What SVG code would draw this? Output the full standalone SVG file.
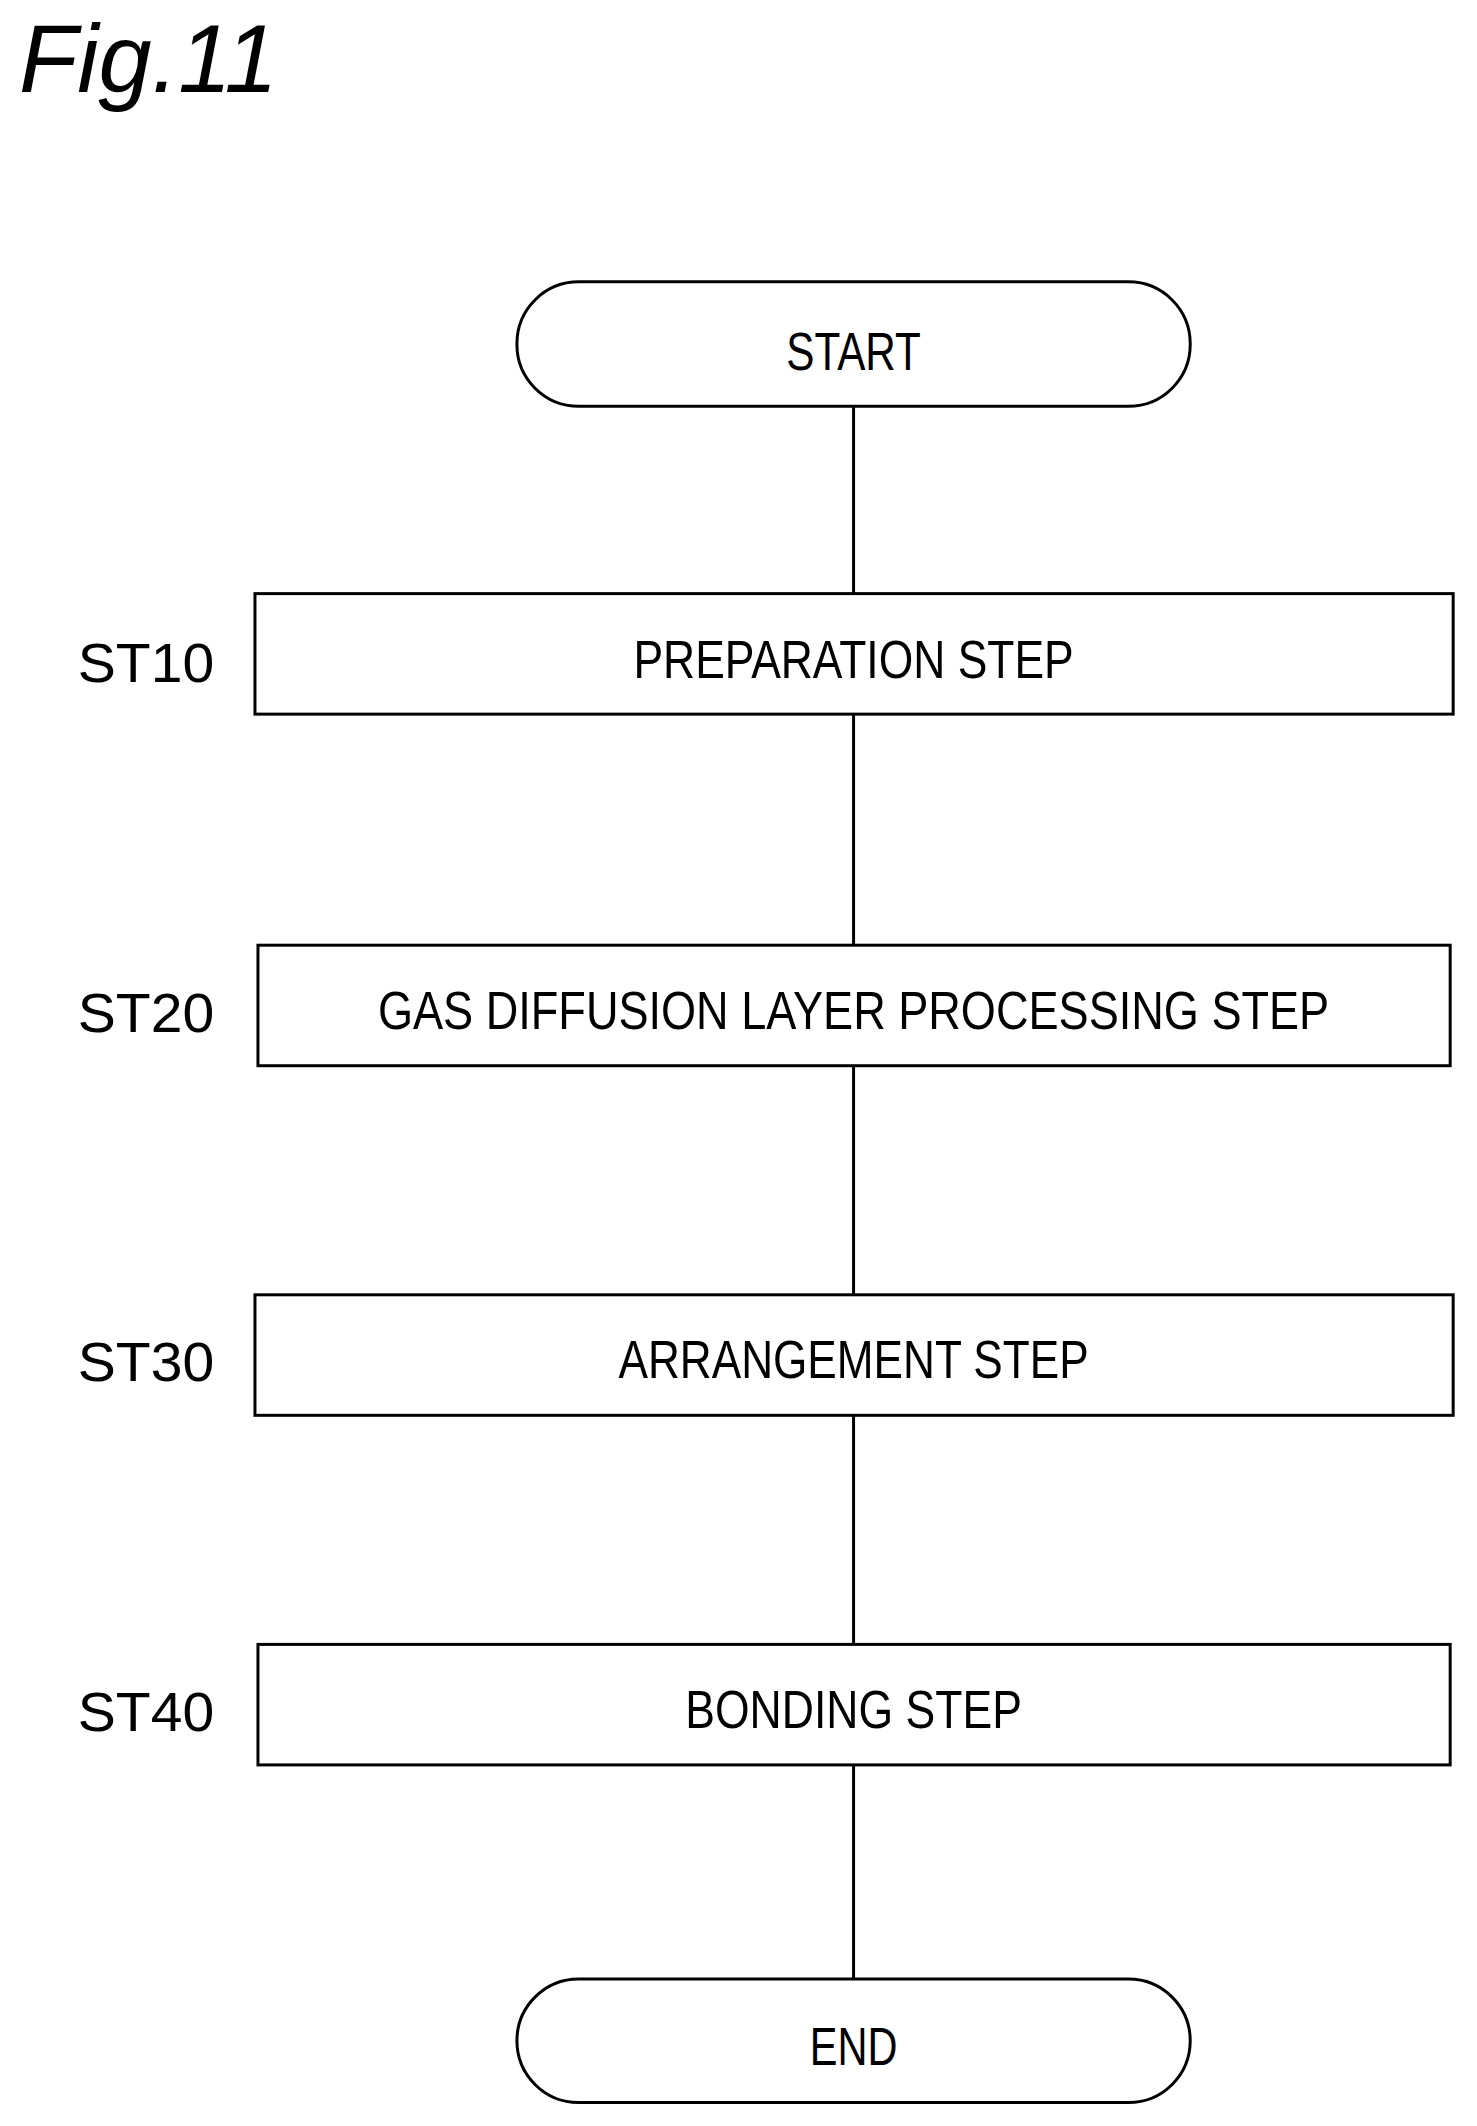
<svg xmlns="http://www.w3.org/2000/svg" width="1477" height="2126" viewBox="0 0 1477 2126">
<style>
.s{fill:#fff;stroke:#000;stroke-width:3}
.t{font-family:"Liberation Sans",Arial,sans-serif;font-size:54px;text-anchor:middle}
.l{font-family:"Liberation Sans",Arial,sans-serif;font-size:56px}
.c{stroke:#000;stroke-width:3;fill:none}
</style>
<rect width="1477" height="2126" fill="#fff"/>
<g transform="scale(0.996)">
<text x="19" y="92" font-family="Liberation Sans,Arial,sans-serif" font-style="italic" font-size="96">Fig.11</text>
<g id="connectors">
<line class="c" x1="857" y1="408" x2="857" y2="596"/>
<line class="c" x1="857" y1="717" x2="857" y2="949"/>
<line class="c" x1="857" y1="1070" x2="857" y2="1300"/>
<line class="c" x1="857" y1="1421" x2="857" y2="1651"/>
<line class="c" x1="857" y1="1772" x2="857" y2="1987"/>
</g>
<g id="start"><rect class="s" x="519" y="283" width="676" height="125" rx="62"/><text class="t" x="857" y="372" textLength="135" lengthAdjust="spacingAndGlyphs">START</text></g>
<g id="st10"><rect class="s" x="256" y="596" width="1203" height="121"/><text class="t" x="857" y="681" textLength="442" lengthAdjust="spacingAndGlyphs">PREPARATION  STEP</text><text class="l" x="78" y="685" textLength="137" lengthAdjust="spacingAndGlyphs">ST10</text></g>
<g id="st20"><rect class="s" x="259" y="949" width="1197" height="121"/><text class="t" x="857" y="1033" textLength="955" lengthAdjust="spacingAndGlyphs">GAS  DIFFUSION  LAYER  PROCESSING  STEP</text><text class="l" x="78" y="1036" textLength="137" lengthAdjust="spacingAndGlyphs">ST20</text></g>
<g id="st30"><rect class="s" x="256" y="1300" width="1203" height="121"/><text class="t" x="857" y="1384" textLength="472" lengthAdjust="spacingAndGlyphs">ARRANGEMENT  STEP</text><text class="l" x="78" y="1387" textLength="137" lengthAdjust="spacingAndGlyphs">ST30</text></g>
<g id="st40"><rect class="s" x="259" y="1651" width="1197" height="121"/><text class="t" x="857" y="1735" textLength="338" lengthAdjust="spacingAndGlyphs">BONDING  STEP</text><text class="l" x="78" y="1738" textLength="137" lengthAdjust="spacingAndGlyphs">ST40</text></g>
<g id="end"><rect class="s" x="519" y="1987" width="676" height="124" rx="62"/><text class="t" x="857" y="2073" textLength="88" lengthAdjust="spacingAndGlyphs">END</text></g>
</g>
</svg>
